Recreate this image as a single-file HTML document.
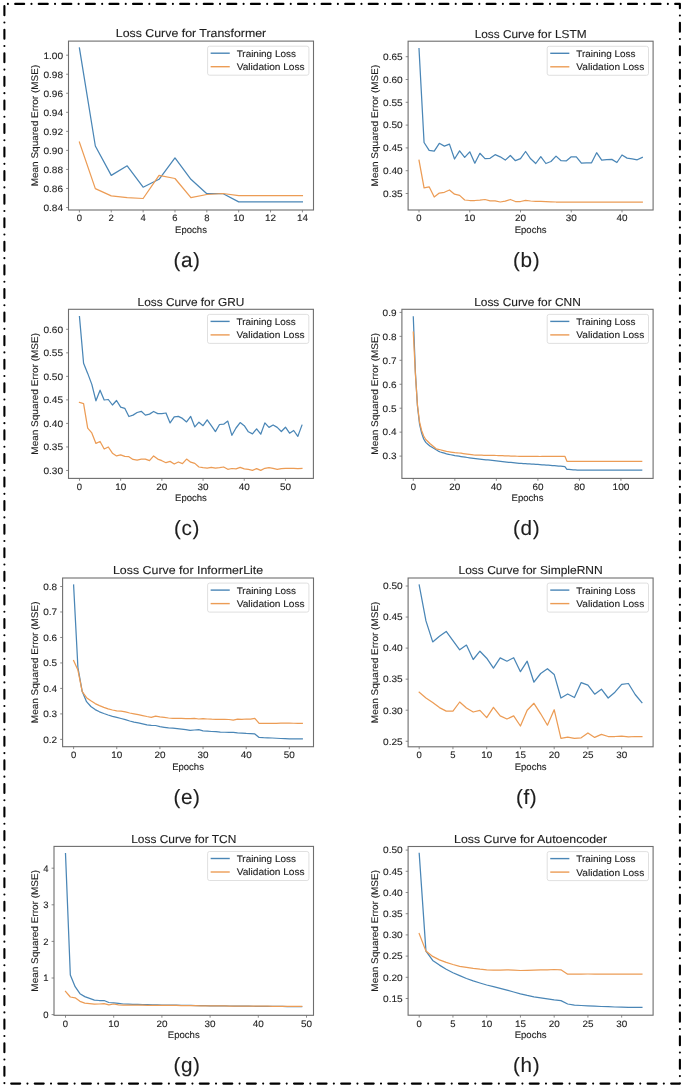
<!DOCTYPE html>
<html><head><meta charset="utf-8"><style>
html,body{margin:0;padding:0;background:#fff;width:685px;height:1086px;overflow:hidden}
svg{display:block;will-change:transform}
text{font-family:"Liberation Sans", sans-serif;stroke:#222;stroke-width:0.12px;text-rendering:geometricPrecision}
</style></head><body><svg width="685" height="1086" viewBox="0 0 685 1086" font-family='"Liberation Sans", sans-serif'><rect width="685" height="1086" fill="#fff"/><polyline points="79.40,47.90 95.33,146.00 111.26,175.40 127.19,165.80 143.12,187.20 159.05,179.30 174.98,157.90 190.91,179.30 206.84,193.70 222.77,193.50 238.70,201.90 254.63,201.90 270.56,201.90 286.49,201.90 302.42,201.90" fill="none" stroke="#4a86b6" stroke-width="1.25" stroke-linejoin="round" stroke-linecap="square"/><polyline points="79.40,142.10 95.33,188.60 111.26,195.90 127.19,197.70 143.12,198.50 159.05,175.40 174.98,178.50 190.91,197.70 206.84,194.50 222.77,193.50 238.70,195.60 254.63,195.60 270.56,195.60 286.49,195.60 302.42,195.60" fill="none" stroke="#ec9c55" stroke-width="1.25" stroke-linejoin="round" stroke-linecap="square"/><rect x="68.50" y="41.10" width="245.00" height="168.90" fill="none" stroke="#6e6e6e" stroke-width="1.1"/><line x1="66.10" y1="55.20" x2="68.50" y2="55.20" stroke="#6e6e6e" stroke-width="0.8"/><text x="63.10" y="58.50" font-size="9.3" text-anchor="end" fill="#1e1e1e" textLength="19.65" lengthAdjust="spacingAndGlyphs">1.00</text><line x1="66.10" y1="74.24" x2="68.50" y2="74.24" stroke="#6e6e6e" stroke-width="0.8"/><text x="63.10" y="77.54" font-size="9.3" text-anchor="end" fill="#1e1e1e" textLength="19.65" lengthAdjust="spacingAndGlyphs">0.98</text><line x1="66.10" y1="93.28" x2="68.50" y2="93.28" stroke="#6e6e6e" stroke-width="0.8"/><text x="63.10" y="96.58" font-size="9.3" text-anchor="end" fill="#1e1e1e" textLength="19.65" lengthAdjust="spacingAndGlyphs">0.96</text><line x1="66.10" y1="112.32" x2="68.50" y2="112.32" stroke="#6e6e6e" stroke-width="0.8"/><text x="63.10" y="115.62" font-size="9.3" text-anchor="end" fill="#1e1e1e" textLength="19.65" lengthAdjust="spacingAndGlyphs">0.94</text><line x1="66.10" y1="131.36" x2="68.50" y2="131.36" stroke="#6e6e6e" stroke-width="0.8"/><text x="63.10" y="134.66" font-size="9.3" text-anchor="end" fill="#1e1e1e" textLength="19.65" lengthAdjust="spacingAndGlyphs">0.92</text><line x1="66.10" y1="150.40" x2="68.50" y2="150.40" stroke="#6e6e6e" stroke-width="0.8"/><text x="63.10" y="153.70" font-size="9.3" text-anchor="end" fill="#1e1e1e" textLength="19.65" lengthAdjust="spacingAndGlyphs">0.90</text><line x1="66.10" y1="169.44" x2="68.50" y2="169.44" stroke="#6e6e6e" stroke-width="0.8"/><text x="63.10" y="172.74" font-size="9.3" text-anchor="end" fill="#1e1e1e" textLength="19.65" lengthAdjust="spacingAndGlyphs">0.88</text><line x1="66.10" y1="188.48" x2="68.50" y2="188.48" stroke="#6e6e6e" stroke-width="0.8"/><text x="63.10" y="191.78" font-size="9.3" text-anchor="end" fill="#1e1e1e" textLength="19.65" lengthAdjust="spacingAndGlyphs">0.86</text><line x1="66.10" y1="207.52" x2="68.50" y2="207.52" stroke="#6e6e6e" stroke-width="0.8"/><text x="63.10" y="210.82" font-size="9.3" text-anchor="end" fill="#1e1e1e" textLength="19.65" lengthAdjust="spacingAndGlyphs">0.84</text><line x1="79.40" y1="210.00" x2="79.40" y2="212.40" stroke="#6e6e6e" stroke-width="0.8"/><text x="79.40" y="221.40" font-size="9.3" text-anchor="middle" fill="#1e1e1e" textLength="5.26" lengthAdjust="spacingAndGlyphs">0</text><line x1="111.26" y1="210.00" x2="111.26" y2="212.40" stroke="#6e6e6e" stroke-width="0.8"/><text x="111.26" y="221.40" font-size="9.3" text-anchor="middle" fill="#1e1e1e" textLength="5.26" lengthAdjust="spacingAndGlyphs">2</text><line x1="143.12" y1="210.00" x2="143.12" y2="212.40" stroke="#6e6e6e" stroke-width="0.8"/><text x="143.12" y="221.40" font-size="9.3" text-anchor="middle" fill="#1e1e1e" textLength="5.26" lengthAdjust="spacingAndGlyphs">4</text><line x1="174.98" y1="210.00" x2="174.98" y2="212.40" stroke="#6e6e6e" stroke-width="0.8"/><text x="174.98" y="221.40" font-size="9.3" text-anchor="middle" fill="#1e1e1e" textLength="5.26" lengthAdjust="spacingAndGlyphs">6</text><line x1="206.84" y1="210.00" x2="206.84" y2="212.40" stroke="#6e6e6e" stroke-width="0.8"/><text x="206.84" y="221.40" font-size="9.3" text-anchor="middle" fill="#1e1e1e" textLength="5.26" lengthAdjust="spacingAndGlyphs">8</text><line x1="238.70" y1="210.00" x2="238.70" y2="212.40" stroke="#6e6e6e" stroke-width="0.8"/><text x="238.70" y="221.40" font-size="9.3" text-anchor="middle" fill="#1e1e1e" textLength="11.01" lengthAdjust="spacingAndGlyphs">10</text><line x1="270.56" y1="210.00" x2="270.56" y2="212.40" stroke="#6e6e6e" stroke-width="0.8"/><text x="270.56" y="221.40" font-size="9.3" text-anchor="middle" fill="#1e1e1e" textLength="11.01" lengthAdjust="spacingAndGlyphs">12</text><line x1="302.42" y1="210.00" x2="302.42" y2="212.40" stroke="#6e6e6e" stroke-width="0.8"/><text x="302.42" y="221.40" font-size="9.3" text-anchor="middle" fill="#1e1e1e" textLength="11.01" lengthAdjust="spacingAndGlyphs">14</text><text x="191.00" y="232.90" font-size="9.6" text-anchor="middle" fill="#1e1e1e" textLength="31.80" lengthAdjust="spacingAndGlyphs">Epochs</text><text x="0" y="0" font-size="9.6" text-anchor="middle" fill="#1e1e1e" textLength="121.6" lengthAdjust="spacingAndGlyphs" transform="translate(38.30,125.55) rotate(-90)">Mean Squared Error (MSE)</text><text x="191.00" y="37.40" font-size="11.5" text-anchor="middle" fill="#1e1e1e" textLength="150.44" lengthAdjust="spacingAndGlyphs">Loss Curve for Transformer</text><rect x="207.60" y="46.20" width="101.3" height="29.0" rx="2" fill="#fff" fill-opacity="0.85" stroke="#d8d8d8" stroke-width="0.8"/><line x1="210.65" y1="53.20" x2="229.75" y2="53.20" stroke="#4a86b6" stroke-width="1.4"/><line x1="210.65" y1="66.70" x2="229.75" y2="66.70" stroke="#ec9c55" stroke-width="1.4"/><text x="236.65" y="56.60" font-size="9.6" text-anchor="start" fill="#1e1e1e" textLength="59.20" lengthAdjust="spacingAndGlyphs">Training Loss</text><text x="236.65" y="70.10" font-size="9.6" text-anchor="start" fill="#1e1e1e" textLength="68.00" lengthAdjust="spacingAndGlyphs">Validation Loss</text><text x="187.00" y="267.20" font-size="20.7" text-anchor="middle" fill="#1e1e1e" letter-spacing="0.6">(a)</text><polyline points="419.00,48.60 424.07,142.50 429.15,150.40 434.23,151.10 439.30,143.30 444.38,146.10 449.45,144.10 454.52,159.00 459.60,150.80 464.68,157.40 469.75,151.80 474.82,163.20 479.90,153.30 484.98,158.60 490.05,158.30 495.12,154.70 500.20,156.80 505.27,160.10 510.35,155.50 515.42,160.70 520.50,158.60 525.58,151.50 530.65,158.80 535.73,163.50 540.80,156.70 545.88,163.50 550.95,161.50 556.02,156.10 561.10,160.70 566.17,160.90 571.25,156.80 576.33,156.80 581.40,163.20 586.48,162.90 591.55,162.80 596.62,152.70 601.70,160.10 606.77,159.60 611.85,159.40 616.92,162.50 622.00,155.00 627.08,158.10 632.15,158.80 637.23,159.80 642.30,157.40" fill="none" stroke="#4a86b6" stroke-width="1.25" stroke-linejoin="round" stroke-linecap="square"/><polyline points="419.00,160.20 424.07,187.90 429.15,186.80 434.23,197.00 439.30,193.10 444.38,192.30 449.45,190.00 454.52,194.20 459.60,195.40 464.68,200.00 469.75,200.50 474.82,200.50 479.90,200.10 484.98,199.50 490.05,200.80 495.12,200.80 500.20,202.00 505.27,201.20 510.35,199.50 515.42,201.50 520.50,201.50 525.58,200.30 530.65,201.00 535.73,201.30 540.80,201.40 545.88,201.60 550.95,201.80 556.02,202.00 561.10,202.00 566.17,202.00 571.25,202.00 576.33,202.00 581.40,202.00 586.48,202.00 591.55,202.00 596.62,202.00 601.70,202.00 606.77,202.00 611.85,202.00 616.92,202.00 622.00,202.00 627.08,202.00 632.15,202.00 637.23,202.00 642.30,202.00" fill="none" stroke="#ec9c55" stroke-width="1.25" stroke-linejoin="round" stroke-linecap="square"/><rect x="408.10" y="41.20" width="245.00" height="168.80" fill="none" stroke="#6e6e6e" stroke-width="1.1"/><line x1="405.70" y1="56.70" x2="408.10" y2="56.70" stroke="#6e6e6e" stroke-width="0.8"/><text x="402.70" y="60.00" font-size="9.3" text-anchor="end" fill="#1e1e1e" textLength="19.65" lengthAdjust="spacingAndGlyphs">0.65</text><line x1="405.70" y1="79.50" x2="408.10" y2="79.50" stroke="#6e6e6e" stroke-width="0.8"/><text x="402.70" y="82.80" font-size="9.3" text-anchor="end" fill="#1e1e1e" textLength="19.65" lengthAdjust="spacingAndGlyphs">0.60</text><line x1="405.70" y1="102.30" x2="408.10" y2="102.30" stroke="#6e6e6e" stroke-width="0.8"/><text x="402.70" y="105.60" font-size="9.3" text-anchor="end" fill="#1e1e1e" textLength="19.65" lengthAdjust="spacingAndGlyphs">0.55</text><line x1="405.70" y1="125.10" x2="408.10" y2="125.10" stroke="#6e6e6e" stroke-width="0.8"/><text x="402.70" y="128.40" font-size="9.3" text-anchor="end" fill="#1e1e1e" textLength="19.65" lengthAdjust="spacingAndGlyphs">0.50</text><line x1="405.70" y1="147.90" x2="408.10" y2="147.90" stroke="#6e6e6e" stroke-width="0.8"/><text x="402.70" y="151.20" font-size="9.3" text-anchor="end" fill="#1e1e1e" textLength="19.65" lengthAdjust="spacingAndGlyphs">0.45</text><line x1="405.70" y1="170.70" x2="408.10" y2="170.70" stroke="#6e6e6e" stroke-width="0.8"/><text x="402.70" y="174.00" font-size="9.3" text-anchor="end" fill="#1e1e1e" textLength="19.65" lengthAdjust="spacingAndGlyphs">0.40</text><line x1="405.70" y1="193.50" x2="408.10" y2="193.50" stroke="#6e6e6e" stroke-width="0.8"/><text x="402.70" y="196.80" font-size="9.3" text-anchor="end" fill="#1e1e1e" textLength="19.65" lengthAdjust="spacingAndGlyphs">0.35</text><line x1="419.00" y1="210.00" x2="419.00" y2="212.40" stroke="#6e6e6e" stroke-width="0.8"/><text x="419.00" y="221.40" font-size="9.3" text-anchor="middle" fill="#1e1e1e" textLength="5.26" lengthAdjust="spacingAndGlyphs">0</text><line x1="469.75" y1="210.00" x2="469.75" y2="212.40" stroke="#6e6e6e" stroke-width="0.8"/><text x="469.75" y="221.40" font-size="9.3" text-anchor="middle" fill="#1e1e1e" textLength="11.01" lengthAdjust="spacingAndGlyphs">10</text><line x1="520.50" y1="210.00" x2="520.50" y2="212.40" stroke="#6e6e6e" stroke-width="0.8"/><text x="520.50" y="221.40" font-size="9.3" text-anchor="middle" fill="#1e1e1e" textLength="11.01" lengthAdjust="spacingAndGlyphs">20</text><line x1="571.25" y1="210.00" x2="571.25" y2="212.40" stroke="#6e6e6e" stroke-width="0.8"/><text x="571.25" y="221.40" font-size="9.3" text-anchor="middle" fill="#1e1e1e" textLength="11.01" lengthAdjust="spacingAndGlyphs">30</text><line x1="622.00" y1="210.00" x2="622.00" y2="212.40" stroke="#6e6e6e" stroke-width="0.8"/><text x="622.00" y="221.40" font-size="9.3" text-anchor="middle" fill="#1e1e1e" textLength="11.01" lengthAdjust="spacingAndGlyphs">40</text><text x="530.60" y="232.90" font-size="9.6" text-anchor="middle" fill="#1e1e1e" textLength="31.80" lengthAdjust="spacingAndGlyphs">Epochs</text><text x="0" y="0" font-size="9.6" text-anchor="middle" fill="#1e1e1e" textLength="121.6" lengthAdjust="spacingAndGlyphs" transform="translate(378.40,125.60) rotate(-90)">Mean Squared Error (MSE)</text><text x="530.60" y="37.50" font-size="11.5" text-anchor="middle" fill="#1e1e1e" textLength="111.89" lengthAdjust="spacingAndGlyphs">Loss Curve for LSTM</text><rect x="547.20" y="46.30" width="101.3" height="29.0" rx="2" fill="#fff" fill-opacity="0.85" stroke="#d8d8d8" stroke-width="0.8"/><line x1="550.25" y1="53.30" x2="569.35" y2="53.30" stroke="#4a86b6" stroke-width="1.4"/><line x1="550.25" y1="66.80" x2="569.35" y2="66.80" stroke="#ec9c55" stroke-width="1.4"/><text x="576.25" y="56.70" font-size="9.6" text-anchor="start" fill="#1e1e1e" textLength="59.20" lengthAdjust="spacingAndGlyphs">Training Loss</text><text x="576.25" y="70.20" font-size="9.6" text-anchor="start" fill="#1e1e1e" textLength="68.00" lengthAdjust="spacingAndGlyphs">Validation Loss</text><text x="526.60" y="267.20" font-size="20.7" text-anchor="middle" fill="#1e1e1e" letter-spacing="0.6">(b)</text><polyline points="79.46,316.60 83.58,363.20 87.70,373.40 91.82,384.40 95.94,400.80 100.06,390.20 104.18,400.00 108.30,399.50 112.42,405.00 116.54,400.50 120.66,407.10 124.78,408.30 128.90,416.50 133.02,415.10 137.14,412.50 141.26,411.30 145.38,415.10 149.50,414.10 153.62,411.50 157.74,413.60 161.86,413.60 165.98,413.00 170.10,422.90 174.22,416.80 178.34,416.40 182.46,418.40 186.58,421.90 190.70,416.40 194.82,426.90 198.94,422.20 203.06,425.70 207.18,419.80 211.30,425.70 215.42,431.60 219.54,424.50 223.66,424.20 227.78,421.10 231.90,435.30 236.02,428.00 240.14,422.60 244.26,425.70 248.38,431.80 252.50,433.90 256.62,428.80 260.74,434.20 264.86,422.90 268.98,427.40 273.10,425.00 277.22,427.40 281.34,431.50 285.46,427.20 289.58,433.20 293.70,430.50 297.82,436.40 301.94,425.20" fill="none" stroke="#4a86b6" stroke-width="1.25" stroke-linejoin="round" stroke-linecap="square"/><polyline points="79.46,402.40 83.58,403.60 87.70,428.20 91.82,432.90 95.94,443.40 100.06,441.50 104.18,449.00 108.30,447.00 112.42,453.20 116.54,455.90 120.66,454.80 124.78,456.40 128.90,456.70 133.02,459.40 137.14,460.10 141.26,459.10 145.38,459.10 149.50,460.70 153.62,455.90 157.74,459.10 161.86,460.70 165.98,462.70 170.10,461.40 174.22,464.00 178.34,462.00 182.46,463.70 186.58,459.10 190.70,462.20 194.82,463.40 198.94,467.00 203.06,467.70 207.18,468.20 211.30,467.40 215.42,468.20 219.54,467.70 223.66,467.00 227.78,469.30 231.90,468.50 236.02,468.90 240.14,467.30 244.26,468.90 248.38,469.30 252.50,470.30 256.62,468.60 260.74,470.40 264.86,468.30 268.98,467.60 273.10,468.30 277.22,469.30 281.34,468.60 285.46,468.30 289.58,468.30 293.70,468.30 297.82,468.60 301.94,468.30" fill="none" stroke="#ec9c55" stroke-width="1.25" stroke-linejoin="round" stroke-linecap="square"/><rect x="68.50" y="309.30" width="244.90" height="169.10" fill="none" stroke="#6e6e6e" stroke-width="1.1"/><line x1="66.10" y1="329.30" x2="68.50" y2="329.30" stroke="#6e6e6e" stroke-width="0.8"/><text x="63.10" y="332.60" font-size="9.3" text-anchor="end" fill="#1e1e1e" textLength="19.65" lengthAdjust="spacingAndGlyphs">0.60</text><line x1="66.10" y1="352.83" x2="68.50" y2="352.83" stroke="#6e6e6e" stroke-width="0.8"/><text x="63.10" y="356.13" font-size="9.3" text-anchor="end" fill="#1e1e1e" textLength="19.65" lengthAdjust="spacingAndGlyphs">0.55</text><line x1="66.10" y1="376.36" x2="68.50" y2="376.36" stroke="#6e6e6e" stroke-width="0.8"/><text x="63.10" y="379.66" font-size="9.3" text-anchor="end" fill="#1e1e1e" textLength="19.65" lengthAdjust="spacingAndGlyphs">0.50</text><line x1="66.10" y1="399.89" x2="68.50" y2="399.89" stroke="#6e6e6e" stroke-width="0.8"/><text x="63.10" y="403.19" font-size="9.3" text-anchor="end" fill="#1e1e1e" textLength="19.65" lengthAdjust="spacingAndGlyphs">0.45</text><line x1="66.10" y1="423.42" x2="68.50" y2="423.42" stroke="#6e6e6e" stroke-width="0.8"/><text x="63.10" y="426.72" font-size="9.3" text-anchor="end" fill="#1e1e1e" textLength="19.65" lengthAdjust="spacingAndGlyphs">0.40</text><line x1="66.10" y1="446.95" x2="68.50" y2="446.95" stroke="#6e6e6e" stroke-width="0.8"/><text x="63.10" y="450.25" font-size="9.3" text-anchor="end" fill="#1e1e1e" textLength="19.65" lengthAdjust="spacingAndGlyphs">0.35</text><line x1="66.10" y1="470.48" x2="68.50" y2="470.48" stroke="#6e6e6e" stroke-width="0.8"/><text x="63.10" y="473.78" font-size="9.3" text-anchor="end" fill="#1e1e1e" textLength="19.65" lengthAdjust="spacingAndGlyphs">0.30</text><line x1="79.46" y1="478.40" x2="79.46" y2="480.80" stroke="#6e6e6e" stroke-width="0.8"/><text x="79.46" y="489.80" font-size="9.3" text-anchor="middle" fill="#1e1e1e" textLength="5.26" lengthAdjust="spacingAndGlyphs">0</text><line x1="120.66" y1="478.40" x2="120.66" y2="480.80" stroke="#6e6e6e" stroke-width="0.8"/><text x="120.66" y="489.80" font-size="9.3" text-anchor="middle" fill="#1e1e1e" textLength="11.01" lengthAdjust="spacingAndGlyphs">10</text><line x1="161.86" y1="478.40" x2="161.86" y2="480.80" stroke="#6e6e6e" stroke-width="0.8"/><text x="161.86" y="489.80" font-size="9.3" text-anchor="middle" fill="#1e1e1e" textLength="11.01" lengthAdjust="spacingAndGlyphs">20</text><line x1="203.06" y1="478.40" x2="203.06" y2="480.80" stroke="#6e6e6e" stroke-width="0.8"/><text x="203.06" y="489.80" font-size="9.3" text-anchor="middle" fill="#1e1e1e" textLength="11.01" lengthAdjust="spacingAndGlyphs">30</text><line x1="244.26" y1="478.40" x2="244.26" y2="480.80" stroke="#6e6e6e" stroke-width="0.8"/><text x="244.26" y="489.80" font-size="9.3" text-anchor="middle" fill="#1e1e1e" textLength="11.01" lengthAdjust="spacingAndGlyphs">40</text><line x1="285.46" y1="478.40" x2="285.46" y2="480.80" stroke="#6e6e6e" stroke-width="0.8"/><text x="285.46" y="489.80" font-size="9.3" text-anchor="middle" fill="#1e1e1e" textLength="11.01" lengthAdjust="spacingAndGlyphs">50</text><text x="190.95" y="501.30" font-size="9.6" text-anchor="middle" fill="#1e1e1e" textLength="31.80" lengthAdjust="spacingAndGlyphs">Epochs</text><text x="0" y="0" font-size="9.6" text-anchor="middle" fill="#1e1e1e" textLength="121.6" lengthAdjust="spacingAndGlyphs" transform="translate(38.40,393.85) rotate(-90)">Mean Squared Error (MSE)</text><text x="190.95" y="305.60" font-size="11.5" text-anchor="middle" fill="#1e1e1e" textLength="106.78" lengthAdjust="spacingAndGlyphs">Loss Curve for GRU</text><rect x="207.50" y="314.40" width="101.3" height="29.0" rx="2" fill="#fff" fill-opacity="0.85" stroke="#d8d8d8" stroke-width="0.8"/><line x1="210.55" y1="321.40" x2="229.65" y2="321.40" stroke="#4a86b6" stroke-width="1.4"/><line x1="210.55" y1="334.90" x2="229.65" y2="334.90" stroke="#ec9c55" stroke-width="1.4"/><text x="236.55" y="324.80" font-size="9.6" text-anchor="start" fill="#1e1e1e" textLength="59.20" lengthAdjust="spacingAndGlyphs">Training Loss</text><text x="236.55" y="338.30" font-size="9.6" text-anchor="start" fill="#1e1e1e" textLength="68.00" lengthAdjust="spacingAndGlyphs">Validation Loss</text><text x="187.00" y="535.40" font-size="20.7" text-anchor="middle" fill="#1e1e1e" letter-spacing="0.6">(c)</text><polyline points="413.30,316.90 415.38,372.00 417.45,406.00 419.53,424.00 421.61,433.00 423.68,439.00 425.76,442.40 427.83,444.20 429.91,446.00 431.99,447.27 434.06,448.53 436.14,449.80 438.22,451.07 440.29,452.00 442.37,452.61 444.45,453.21 446.52,453.82 448.60,454.30 450.68,454.74 452.75,455.17 454.83,455.60 456.90,455.92 458.98,456.23 461.06,456.55 463.13,456.87 465.21,457.18 467.29,457.50 469.36,457.79 471.44,458.07 473.52,458.36 475.59,458.61 477.67,458.84 479.74,459.07 481.82,459.30 483.90,459.53 485.97,459.76 488.05,459.99 490.13,460.21 492.20,460.44 494.28,460.67 496.36,460.90 498.43,461.13 500.51,461.35 502.59,461.58 504.66,461.81 506.74,462.03 508.81,462.26 510.89,462.48 512.97,462.71 515.04,462.94 517.12,463.16 519.20,463.35 521.27,463.48 523.35,463.60 525.43,463.73 527.50,463.85 529.58,463.98 531.65,464.10 533.73,464.23 535.81,464.35 537.88,464.48 539.96,464.60 542.04,464.76 544.11,464.91 546.19,465.07 548.27,465.23 550.34,465.38 552.42,465.54 554.50,465.69 556.57,465.85 558.65,466.01 560.72,466.18 562.80,466.39 564.88,466.60 566.95,469.30 569.03,469.46 571.11,469.62 573.18,469.78 575.26,469.94 577.34,470.10 579.41,470.10 581.49,470.10 583.56,470.10 585.64,470.10 587.72,470.10 589.79,470.10 591.87,470.10 593.95,470.10 596.02,470.10 598.10,470.10 600.18,470.10 602.25,470.10 604.33,470.10 606.41,470.10 608.48,470.10 610.56,470.10 612.63,470.10 614.71,470.10 616.79,470.10 618.86,470.10 620.94,470.10 623.02,470.10 625.09,470.10 627.17,470.10 629.25,470.10 631.32,470.10 633.40,470.10 635.47,470.10 637.55,470.10 639.63,470.10 641.70,470.10" fill="none" stroke="#4a86b6" stroke-width="1.25" stroke-linejoin="round" stroke-linecap="square"/><polyline points="413.30,332.10 415.38,374.00 417.45,405.00 419.53,422.00 421.61,430.50 423.68,436.00 425.76,439.50 427.83,441.50 429.91,443.50 431.99,445.27 434.06,447.03 436.14,448.80 438.22,449.27 440.29,449.76 442.37,450.29 444.45,450.82 446.52,451.34 448.60,451.71 450.68,452.01 452.75,452.30 454.83,452.60 456.90,452.80 458.98,453.00 461.06,453.24 463.13,453.53 465.21,453.81 467.29,454.10 469.36,454.39 471.44,454.67 473.52,454.96 475.59,455.12 477.67,455.16 479.74,455.20 481.82,455.23 483.90,455.27 485.97,455.31 488.05,455.35 490.13,455.39 492.20,455.42 494.28,455.46 496.36,455.50 498.43,455.58 500.51,455.65 502.59,455.73 504.66,455.80 506.74,455.88 508.81,455.95 510.89,456.03 512.97,456.10 515.04,456.18 517.12,456.25 519.20,456.31 521.27,456.33 523.35,456.35 525.43,456.37 527.50,456.38 529.58,456.40 531.65,456.42 533.73,456.44 535.81,456.46 537.88,456.48 539.96,456.50 542.04,456.48 544.11,456.47 546.19,456.45 548.27,456.43 550.34,456.42 552.42,456.40 554.50,456.38 556.57,456.37 558.65,456.35 560.72,456.33 562.80,456.32 564.88,456.30 566.95,461.30 569.03,461.30 571.11,461.30 573.18,461.30 575.26,461.30 577.34,461.30 579.41,461.30 581.49,461.30 583.56,461.30 585.64,461.30 587.72,461.30 589.79,461.30 591.87,461.30 593.95,461.30 596.02,461.30 598.10,461.30 600.18,461.30 602.25,461.30 604.33,461.30 606.41,461.30 608.48,461.30 610.56,461.30 612.63,461.30 614.71,461.30 616.79,461.30 618.86,461.30 620.94,461.30 623.02,461.30 625.09,461.30 627.17,461.30 629.25,461.30 631.32,461.30 633.40,461.30 635.47,461.30 637.55,461.30 639.63,461.30 641.70,461.30" fill="none" stroke="#ec9c55" stroke-width="1.25" stroke-linejoin="round" stroke-linecap="square"/><rect x="401.90" y="309.30" width="251.20" height="169.10" fill="none" stroke="#6e6e6e" stroke-width="1.1"/><line x1="399.50" y1="312.40" x2="401.90" y2="312.40" stroke="#6e6e6e" stroke-width="0.8"/><text x="396.50" y="315.70" font-size="9.3" text-anchor="end" fill="#1e1e1e" textLength="13.89" lengthAdjust="spacingAndGlyphs">0.9</text><line x1="399.50" y1="336.35" x2="401.90" y2="336.35" stroke="#6e6e6e" stroke-width="0.8"/><text x="396.50" y="339.65" font-size="9.3" text-anchor="end" fill="#1e1e1e" textLength="13.89" lengthAdjust="spacingAndGlyphs">0.8</text><line x1="399.50" y1="360.30" x2="401.90" y2="360.30" stroke="#6e6e6e" stroke-width="0.8"/><text x="396.50" y="363.60" font-size="9.3" text-anchor="end" fill="#1e1e1e" textLength="13.89" lengthAdjust="spacingAndGlyphs">0.7</text><line x1="399.50" y1="384.25" x2="401.90" y2="384.25" stroke="#6e6e6e" stroke-width="0.8"/><text x="396.50" y="387.55" font-size="9.3" text-anchor="end" fill="#1e1e1e" textLength="13.89" lengthAdjust="spacingAndGlyphs">0.6</text><line x1="399.50" y1="408.20" x2="401.90" y2="408.20" stroke="#6e6e6e" stroke-width="0.8"/><text x="396.50" y="411.50" font-size="9.3" text-anchor="end" fill="#1e1e1e" textLength="13.89" lengthAdjust="spacingAndGlyphs">0.5</text><line x1="399.50" y1="432.15" x2="401.90" y2="432.15" stroke="#6e6e6e" stroke-width="0.8"/><text x="396.50" y="435.45" font-size="9.3" text-anchor="end" fill="#1e1e1e" textLength="13.89" lengthAdjust="spacingAndGlyphs">0.4</text><line x1="399.50" y1="456.10" x2="401.90" y2="456.10" stroke="#6e6e6e" stroke-width="0.8"/><text x="396.50" y="459.40" font-size="9.3" text-anchor="end" fill="#1e1e1e" textLength="13.89" lengthAdjust="spacingAndGlyphs">0.3</text><line x1="413.30" y1="478.40" x2="413.30" y2="480.80" stroke="#6e6e6e" stroke-width="0.8"/><text x="413.30" y="489.80" font-size="9.3" text-anchor="middle" fill="#1e1e1e" textLength="5.26" lengthAdjust="spacingAndGlyphs">0</text><line x1="454.83" y1="478.40" x2="454.83" y2="480.80" stroke="#6e6e6e" stroke-width="0.8"/><text x="454.83" y="489.80" font-size="9.3" text-anchor="middle" fill="#1e1e1e" textLength="11.01" lengthAdjust="spacingAndGlyphs">20</text><line x1="496.36" y1="478.40" x2="496.36" y2="480.80" stroke="#6e6e6e" stroke-width="0.8"/><text x="496.36" y="489.80" font-size="9.3" text-anchor="middle" fill="#1e1e1e" textLength="11.01" lengthAdjust="spacingAndGlyphs">40</text><line x1="537.88" y1="478.40" x2="537.88" y2="480.80" stroke="#6e6e6e" stroke-width="0.8"/><text x="537.88" y="489.80" font-size="9.3" text-anchor="middle" fill="#1e1e1e" textLength="11.01" lengthAdjust="spacingAndGlyphs">60</text><line x1="579.41" y1="478.40" x2="579.41" y2="480.80" stroke="#6e6e6e" stroke-width="0.8"/><text x="579.41" y="489.80" font-size="9.3" text-anchor="middle" fill="#1e1e1e" textLength="11.01" lengthAdjust="spacingAndGlyphs">80</text><line x1="620.94" y1="478.40" x2="620.94" y2="480.80" stroke="#6e6e6e" stroke-width="0.8"/><text x="620.94" y="489.80" font-size="9.3" text-anchor="middle" fill="#1e1e1e" textLength="16.77" lengthAdjust="spacingAndGlyphs">100</text><text x="527.50" y="501.30" font-size="9.6" text-anchor="middle" fill="#1e1e1e" textLength="31.80" lengthAdjust="spacingAndGlyphs">Epochs</text><text x="0" y="0" font-size="9.6" text-anchor="middle" fill="#1e1e1e" textLength="121.6" lengthAdjust="spacingAndGlyphs" transform="translate(378.30,393.85) rotate(-90)">Mean Squared Error (MSE)</text><text x="527.50" y="305.60" font-size="11.5" text-anchor="middle" fill="#1e1e1e" textLength="106.69" lengthAdjust="spacingAndGlyphs">Loss Curve for CNN</text><rect x="547.20" y="314.40" width="101.3" height="29.0" rx="2" fill="#fff" fill-opacity="0.85" stroke="#d8d8d8" stroke-width="0.8"/><line x1="550.25" y1="321.40" x2="569.35" y2="321.40" stroke="#4a86b6" stroke-width="1.4"/><line x1="550.25" y1="334.90" x2="569.35" y2="334.90" stroke="#ec9c55" stroke-width="1.4"/><text x="576.25" y="324.80" font-size="9.6" text-anchor="start" fill="#1e1e1e" textLength="59.20" lengthAdjust="spacingAndGlyphs">Training Loss</text><text x="576.25" y="338.30" font-size="9.6" text-anchor="start" fill="#1e1e1e" textLength="68.00" lengthAdjust="spacingAndGlyphs">Validation Loss</text><text x="526.60" y="535.40" font-size="20.7" text-anchor="middle" fill="#1e1e1e" letter-spacing="0.6">(d)</text><polyline points="73.60,585.00 77.91,667.50 82.23,691.60 86.54,701.70 90.86,706.50 95.17,709.60 99.49,711.80 103.80,713.50 108.12,715.00 112.44,716.30 116.75,717.40 121.06,718.50 125.38,719.70 129.69,721.00 134.01,722.10 138.32,722.90 142.64,723.80 146.95,724.80 151.27,725.40 155.59,725.50 159.90,726.70 164.22,727.30 168.53,727.90 172.84,728.20 177.16,728.60 181.48,729.10 185.79,729.70 190.11,730.40 194.42,730.00 198.74,729.70 203.05,730.80 207.37,731.10 211.68,731.50 216.00,731.70 220.31,732.20 224.62,732.25 228.94,732.30 233.25,732.40 237.57,732.80 241.89,733.10 246.20,733.40 250.52,733.60 254.83,733.90 259.14,737.40 263.46,737.70 267.77,737.85 272.09,738.00 276.40,738.25 280.72,738.50 285.04,738.65 289.35,738.80 293.67,738.80 297.98,738.80 302.30,738.80" fill="none" stroke="#4a86b6" stroke-width="1.25" stroke-linejoin="round" stroke-linecap="square"/><polyline points="73.60,660.50 77.91,670.10 82.23,691.60 86.54,697.70 90.86,700.80 95.17,703.60 99.49,705.60 103.80,707.40 108.12,708.90 112.44,710.00 116.75,710.80 121.06,711.20 125.38,711.80 129.69,713.00 134.01,713.80 138.32,714.70 142.64,715.60 146.95,716.50 151.27,717.30 155.59,716.20 159.90,716.80 164.22,717.30 168.53,718.00 172.84,718.40 177.16,718.40 181.48,718.47 185.79,718.53 190.11,718.60 194.42,718.30 198.74,719.00 203.05,718.60 207.37,719.00 211.68,719.20 216.00,719.30 220.31,719.37 224.62,719.43 228.94,719.50 233.25,720.10 237.57,719.10 241.89,719.30 246.20,719.00 250.52,719.10 254.83,718.40 259.14,723.40 263.46,723.38 267.77,723.35 272.09,723.32 276.40,723.30 280.72,723.20 285.04,723.10 289.35,723.17 293.67,723.25 297.98,723.33 302.30,723.40" fill="none" stroke="#ec9c55" stroke-width="1.25" stroke-linejoin="round" stroke-linecap="square"/><rect x="62.60" y="578.00" width="250.90" height="168.70" fill="none" stroke="#6e6e6e" stroke-width="1.1"/><line x1="60.20" y1="586.50" x2="62.60" y2="586.50" stroke="#6e6e6e" stroke-width="0.8"/><text x="57.20" y="589.80" font-size="9.3" text-anchor="end" fill="#1e1e1e" textLength="13.89" lengthAdjust="spacingAndGlyphs">0.8</text><line x1="60.20" y1="611.98" x2="62.60" y2="611.98" stroke="#6e6e6e" stroke-width="0.8"/><text x="57.20" y="615.28" font-size="9.3" text-anchor="end" fill="#1e1e1e" textLength="13.89" lengthAdjust="spacingAndGlyphs">0.7</text><line x1="60.20" y1="637.46" x2="62.60" y2="637.46" stroke="#6e6e6e" stroke-width="0.8"/><text x="57.20" y="640.76" font-size="9.3" text-anchor="end" fill="#1e1e1e" textLength="13.89" lengthAdjust="spacingAndGlyphs">0.6</text><line x1="60.20" y1="662.94" x2="62.60" y2="662.94" stroke="#6e6e6e" stroke-width="0.8"/><text x="57.20" y="666.24" font-size="9.3" text-anchor="end" fill="#1e1e1e" textLength="13.89" lengthAdjust="spacingAndGlyphs">0.5</text><line x1="60.20" y1="688.42" x2="62.60" y2="688.42" stroke="#6e6e6e" stroke-width="0.8"/><text x="57.20" y="691.72" font-size="9.3" text-anchor="end" fill="#1e1e1e" textLength="13.89" lengthAdjust="spacingAndGlyphs">0.4</text><line x1="60.20" y1="713.90" x2="62.60" y2="713.90" stroke="#6e6e6e" stroke-width="0.8"/><text x="57.20" y="717.20" font-size="9.3" text-anchor="end" fill="#1e1e1e" textLength="13.89" lengthAdjust="spacingAndGlyphs">0.3</text><line x1="60.20" y1="739.38" x2="62.60" y2="739.38" stroke="#6e6e6e" stroke-width="0.8"/><text x="57.20" y="742.68" font-size="9.3" text-anchor="end" fill="#1e1e1e" textLength="13.89" lengthAdjust="spacingAndGlyphs">0.2</text><line x1="73.60" y1="746.70" x2="73.60" y2="749.10" stroke="#6e6e6e" stroke-width="0.8"/><text x="73.60" y="758.10" font-size="9.3" text-anchor="middle" fill="#1e1e1e" textLength="5.26" lengthAdjust="spacingAndGlyphs">0</text><line x1="116.75" y1="746.70" x2="116.75" y2="749.10" stroke="#6e6e6e" stroke-width="0.8"/><text x="116.75" y="758.10" font-size="9.3" text-anchor="middle" fill="#1e1e1e" textLength="11.01" lengthAdjust="spacingAndGlyphs">10</text><line x1="159.90" y1="746.70" x2="159.90" y2="749.10" stroke="#6e6e6e" stroke-width="0.8"/><text x="159.90" y="758.10" font-size="9.3" text-anchor="middle" fill="#1e1e1e" textLength="11.01" lengthAdjust="spacingAndGlyphs">20</text><line x1="203.05" y1="746.70" x2="203.05" y2="749.10" stroke="#6e6e6e" stroke-width="0.8"/><text x="203.05" y="758.10" font-size="9.3" text-anchor="middle" fill="#1e1e1e" textLength="11.01" lengthAdjust="spacingAndGlyphs">30</text><line x1="246.20" y1="746.70" x2="246.20" y2="749.10" stroke="#6e6e6e" stroke-width="0.8"/><text x="246.20" y="758.10" font-size="9.3" text-anchor="middle" fill="#1e1e1e" textLength="11.01" lengthAdjust="spacingAndGlyphs">40</text><line x1="289.35" y1="746.70" x2="289.35" y2="749.10" stroke="#6e6e6e" stroke-width="0.8"/><text x="289.35" y="758.10" font-size="9.3" text-anchor="middle" fill="#1e1e1e" textLength="11.01" lengthAdjust="spacingAndGlyphs">50</text><text x="188.05" y="769.60" font-size="9.6" text-anchor="middle" fill="#1e1e1e" textLength="31.80" lengthAdjust="spacingAndGlyphs">Epochs</text><text x="0" y="0" font-size="9.6" text-anchor="middle" fill="#1e1e1e" textLength="121.6" lengthAdjust="spacingAndGlyphs" transform="translate(37.80,662.35) rotate(-90)">Mean Squared Error (MSE)</text><text x="188.05" y="574.30" font-size="11.5" text-anchor="middle" fill="#1e1e1e" textLength="150.23" lengthAdjust="spacingAndGlyphs">Loss Curve for InformerLite</text><rect x="207.60" y="583.10" width="101.3" height="29.0" rx="2" fill="#fff" fill-opacity="0.85" stroke="#d8d8d8" stroke-width="0.8"/><line x1="210.65" y1="590.10" x2="229.75" y2="590.10" stroke="#4a86b6" stroke-width="1.4"/><line x1="210.65" y1="603.60" x2="229.75" y2="603.60" stroke="#ec9c55" stroke-width="1.4"/><text x="236.65" y="593.50" font-size="9.6" text-anchor="start" fill="#1e1e1e" textLength="59.20" lengthAdjust="spacingAndGlyphs">Training Loss</text><text x="236.65" y="607.00" font-size="9.6" text-anchor="start" fill="#1e1e1e" textLength="68.00" lengthAdjust="spacingAndGlyphs">Validation Loss</text><text x="187.00" y="803.70" font-size="20.7" text-anchor="middle" fill="#1e1e1e" letter-spacing="0.6">(e)</text><polyline points="419.20,585.00 425.95,620.90 432.70,641.90 439.45,636.30 446.20,631.40 452.94,640.70 459.69,649.80 466.44,645.10 473.19,659.50 479.94,651.20 486.69,658.20 493.44,668.20 500.19,657.90 506.94,661.20 513.69,657.70 520.43,671.70 527.18,661.20 533.93,682.20 540.68,673.50 547.43,668.70 554.18,674.40 560.93,698.00 567.68,694.00 574.43,697.50 581.18,682.60 587.92,685.20 594.67,694.20 601.42,689.20 608.17,698.00 614.92,692.20 621.67,684.30 628.42,683.50 635.17,694.50 641.92,702.70" fill="none" stroke="#4a86b6" stroke-width="1.25" stroke-linejoin="round" stroke-linecap="square"/><polyline points="419.20,692.20 425.95,698.00 432.70,702.40 439.45,707.60 446.20,711.10 452.94,711.10 459.69,702.00 466.44,708.00 473.19,712.00 479.94,710.30 486.69,717.60 493.44,707.30 500.19,715.90 506.94,719.00 513.69,715.90 520.43,726.00 527.18,710.30 533.93,703.30 540.68,713.80 547.43,725.20 554.18,709.70 560.93,738.30 567.68,737.10 574.43,738.30 581.18,737.80 587.92,733.00 594.67,737.40 601.42,734.40 608.17,736.50 614.92,736.50 621.67,736.20 628.42,736.90 635.17,736.50 641.92,736.50" fill="none" stroke="#ec9c55" stroke-width="1.25" stroke-linejoin="round" stroke-linecap="square"/><rect x="408.10" y="578.00" width="245.00" height="168.80" fill="none" stroke="#6e6e6e" stroke-width="1.1"/><line x1="405.70" y1="586.00" x2="408.10" y2="586.00" stroke="#6e6e6e" stroke-width="0.8"/><text x="402.70" y="589.30" font-size="9.3" text-anchor="end" fill="#1e1e1e" textLength="19.65" lengthAdjust="spacingAndGlyphs">0.50</text><line x1="405.70" y1="617.05" x2="408.10" y2="617.05" stroke="#6e6e6e" stroke-width="0.8"/><text x="402.70" y="620.35" font-size="9.3" text-anchor="end" fill="#1e1e1e" textLength="19.65" lengthAdjust="spacingAndGlyphs">0.45</text><line x1="405.70" y1="648.10" x2="408.10" y2="648.10" stroke="#6e6e6e" stroke-width="0.8"/><text x="402.70" y="651.40" font-size="9.3" text-anchor="end" fill="#1e1e1e" textLength="19.65" lengthAdjust="spacingAndGlyphs">0.40</text><line x1="405.70" y1="679.15" x2="408.10" y2="679.15" stroke="#6e6e6e" stroke-width="0.8"/><text x="402.70" y="682.45" font-size="9.3" text-anchor="end" fill="#1e1e1e" textLength="19.65" lengthAdjust="spacingAndGlyphs">0.35</text><line x1="405.70" y1="710.20" x2="408.10" y2="710.20" stroke="#6e6e6e" stroke-width="0.8"/><text x="402.70" y="713.50" font-size="9.3" text-anchor="end" fill="#1e1e1e" textLength="19.65" lengthAdjust="spacingAndGlyphs">0.30</text><line x1="405.70" y1="741.25" x2="408.10" y2="741.25" stroke="#6e6e6e" stroke-width="0.8"/><text x="402.70" y="744.55" font-size="9.3" text-anchor="end" fill="#1e1e1e" textLength="19.65" lengthAdjust="spacingAndGlyphs">0.25</text><line x1="419.20" y1="746.80" x2="419.20" y2="749.20" stroke="#6e6e6e" stroke-width="0.8"/><text x="419.20" y="758.20" font-size="9.3" text-anchor="middle" fill="#1e1e1e" textLength="5.26" lengthAdjust="spacingAndGlyphs">0</text><line x1="452.94" y1="746.80" x2="452.94" y2="749.20" stroke="#6e6e6e" stroke-width="0.8"/><text x="452.94" y="758.20" font-size="9.3" text-anchor="middle" fill="#1e1e1e" textLength="5.26" lengthAdjust="spacingAndGlyphs">5</text><line x1="486.69" y1="746.80" x2="486.69" y2="749.20" stroke="#6e6e6e" stroke-width="0.8"/><text x="486.69" y="758.20" font-size="9.3" text-anchor="middle" fill="#1e1e1e" textLength="11.01" lengthAdjust="spacingAndGlyphs">10</text><line x1="520.43" y1="746.80" x2="520.43" y2="749.20" stroke="#6e6e6e" stroke-width="0.8"/><text x="520.43" y="758.20" font-size="9.3" text-anchor="middle" fill="#1e1e1e" textLength="11.01" lengthAdjust="spacingAndGlyphs">15</text><line x1="554.18" y1="746.80" x2="554.18" y2="749.20" stroke="#6e6e6e" stroke-width="0.8"/><text x="554.18" y="758.20" font-size="9.3" text-anchor="middle" fill="#1e1e1e" textLength="11.01" lengthAdjust="spacingAndGlyphs">20</text><line x1="587.92" y1="746.80" x2="587.92" y2="749.20" stroke="#6e6e6e" stroke-width="0.8"/><text x="587.92" y="758.20" font-size="9.3" text-anchor="middle" fill="#1e1e1e" textLength="11.01" lengthAdjust="spacingAndGlyphs">25</text><line x1="621.67" y1="746.80" x2="621.67" y2="749.20" stroke="#6e6e6e" stroke-width="0.8"/><text x="621.67" y="758.20" font-size="9.3" text-anchor="middle" fill="#1e1e1e" textLength="11.01" lengthAdjust="spacingAndGlyphs">30</text><text x="530.60" y="769.70" font-size="9.6" text-anchor="middle" fill="#1e1e1e" textLength="31.80" lengthAdjust="spacingAndGlyphs">Epochs</text><text x="0" y="0" font-size="9.6" text-anchor="middle" fill="#1e1e1e" textLength="121.6" lengthAdjust="spacingAndGlyphs" transform="translate(377.90,662.40) rotate(-90)">Mean Squared Error (MSE)</text><text x="530.60" y="574.30" font-size="11.5" text-anchor="middle" fill="#1e1e1e" textLength="144.29" lengthAdjust="spacingAndGlyphs">Loss Curve for SimpleRNN</text><rect x="547.20" y="583.10" width="101.3" height="29.0" rx="2" fill="#fff" fill-opacity="0.85" stroke="#d8d8d8" stroke-width="0.8"/><line x1="550.25" y1="590.10" x2="569.35" y2="590.10" stroke="#4a86b6" stroke-width="1.4"/><line x1="550.25" y1="603.60" x2="569.35" y2="603.60" stroke="#ec9c55" stroke-width="1.4"/><text x="576.25" y="593.50" font-size="9.6" text-anchor="start" fill="#1e1e1e" textLength="59.20" lengthAdjust="spacingAndGlyphs">Training Loss</text><text x="576.25" y="607.00" font-size="9.6" text-anchor="start" fill="#1e1e1e" textLength="68.00" lengthAdjust="spacingAndGlyphs">Validation Loss</text><text x="526.60" y="803.70" font-size="20.7" text-anchor="middle" fill="#1e1e1e" letter-spacing="0.6">(f)</text><polyline points="65.50,853.60 70.32,975.00 75.14,986.70 79.96,993.70 84.78,996.60 89.60,998.40 94.42,1000.10 99.24,1000.50 104.06,1000.50 108.88,1002.50 113.70,1002.80 118.52,1003.30 123.34,1004.00 128.16,1004.20 132.98,1004.30 137.80,1004.42 142.62,1004.53 147.44,1004.65 152.26,1004.77 157.08,1004.88 161.90,1005.00 166.72,1005.08 171.54,1005.16 176.36,1005.24 181.18,1005.32 186.00,1005.40 190.82,1005.48 195.64,1005.56 200.46,1005.64 205.28,1005.72 210.10,1005.80 214.92,1005.85 219.74,1005.90 224.56,1005.95 229.38,1006.00 234.20,1006.05 239.02,1006.10 243.84,1006.15 248.66,1006.20 253.48,1006.25 258.30,1006.30 263.12,1006.33 267.94,1006.37 272.76,1006.40 277.58,1006.43 282.40,1006.47 287.22,1006.50 292.04,1006.53 296.86,1006.57 301.68,1006.60" fill="none" stroke="#4a86b6" stroke-width="1.25" stroke-linejoin="round" stroke-linecap="square"/><polyline points="65.50,991.40 70.32,997.00 75.14,997.80 79.96,1001.30 84.78,1003.10 89.60,1003.60 94.42,1004.20 99.24,1004.00 104.06,1003.60 108.88,1004.80 113.70,1004.00 118.52,1004.90 123.34,1005.20 128.16,1005.20 132.98,1005.20 137.80,1005.22 142.62,1005.23 147.44,1005.25 152.26,1005.27 157.08,1005.28 161.90,1005.30 166.72,1005.36 171.54,1005.42 176.36,1005.48 181.18,1005.54 186.00,1005.60 190.82,1005.66 195.64,1005.72 200.46,1005.78 205.28,1005.84 210.10,1005.90 214.92,1005.93 219.74,1005.96 224.56,1005.99 229.38,1006.02 234.20,1006.05 239.02,1006.08 243.84,1006.11 248.66,1006.14 253.48,1006.17 258.30,1006.20 263.12,1006.22 267.94,1006.24 272.76,1006.27 277.58,1006.29 282.40,1006.31 287.22,1006.33 292.04,1006.36 296.86,1006.38 301.68,1006.40" fill="none" stroke="#ec9c55" stroke-width="1.25" stroke-linejoin="round" stroke-linecap="square"/><rect x="54.00" y="846.40" width="259.50" height="168.90" fill="none" stroke="#6e6e6e" stroke-width="1.1"/><line x1="51.60" y1="868.20" x2="54.00" y2="868.20" stroke="#6e6e6e" stroke-width="0.8"/><text x="48.60" y="871.50" font-size="9.3" text-anchor="end" fill="#1e1e1e" textLength="5.26" lengthAdjust="spacingAndGlyphs">4</text><line x1="51.60" y1="904.80" x2="54.00" y2="904.80" stroke="#6e6e6e" stroke-width="0.8"/><text x="48.60" y="908.10" font-size="9.3" text-anchor="end" fill="#1e1e1e" textLength="5.26" lengthAdjust="spacingAndGlyphs">3</text><line x1="51.60" y1="941.40" x2="54.00" y2="941.40" stroke="#6e6e6e" stroke-width="0.8"/><text x="48.60" y="944.70" font-size="9.3" text-anchor="end" fill="#1e1e1e" textLength="5.26" lengthAdjust="spacingAndGlyphs">2</text><line x1="51.60" y1="978.00" x2="54.00" y2="978.00" stroke="#6e6e6e" stroke-width="0.8"/><text x="48.60" y="981.30" font-size="9.3" text-anchor="end" fill="#1e1e1e" textLength="5.26" lengthAdjust="spacingAndGlyphs">1</text><line x1="51.60" y1="1014.60" x2="54.00" y2="1014.60" stroke="#6e6e6e" stroke-width="0.8"/><text x="48.60" y="1017.90" font-size="9.3" text-anchor="end" fill="#1e1e1e" textLength="5.26" lengthAdjust="spacingAndGlyphs">0</text><line x1="65.50" y1="1015.30" x2="65.50" y2="1017.70" stroke="#6e6e6e" stroke-width="0.8"/><text x="65.50" y="1026.70" font-size="9.3" text-anchor="middle" fill="#1e1e1e" textLength="5.26" lengthAdjust="spacingAndGlyphs">0</text><line x1="113.70" y1="1015.30" x2="113.70" y2="1017.70" stroke="#6e6e6e" stroke-width="0.8"/><text x="113.70" y="1026.70" font-size="9.3" text-anchor="middle" fill="#1e1e1e" textLength="11.01" lengthAdjust="spacingAndGlyphs">10</text><line x1="161.90" y1="1015.30" x2="161.90" y2="1017.70" stroke="#6e6e6e" stroke-width="0.8"/><text x="161.90" y="1026.70" font-size="9.3" text-anchor="middle" fill="#1e1e1e" textLength="11.01" lengthAdjust="spacingAndGlyphs">20</text><line x1="210.10" y1="1015.30" x2="210.10" y2="1017.70" stroke="#6e6e6e" stroke-width="0.8"/><text x="210.10" y="1026.70" font-size="9.3" text-anchor="middle" fill="#1e1e1e" textLength="11.01" lengthAdjust="spacingAndGlyphs">30</text><line x1="258.30" y1="1015.30" x2="258.30" y2="1017.70" stroke="#6e6e6e" stroke-width="0.8"/><text x="258.30" y="1026.70" font-size="9.3" text-anchor="middle" fill="#1e1e1e" textLength="11.01" lengthAdjust="spacingAndGlyphs">40</text><line x1="306.50" y1="1015.30" x2="306.50" y2="1017.70" stroke="#6e6e6e" stroke-width="0.8"/><text x="306.50" y="1026.70" font-size="9.3" text-anchor="middle" fill="#1e1e1e" textLength="11.01" lengthAdjust="spacingAndGlyphs">50</text><text x="183.75" y="1038.20" font-size="9.6" text-anchor="middle" fill="#1e1e1e" textLength="31.80" lengthAdjust="spacingAndGlyphs">Epochs</text><text x="0" y="0" font-size="9.6" text-anchor="middle" fill="#1e1e1e" textLength="121.6" lengthAdjust="spacingAndGlyphs" transform="translate(37.90,930.85) rotate(-90)">Mean Squared Error (MSE)</text><text x="183.75" y="842.70" font-size="11.5" text-anchor="middle" fill="#1e1e1e" textLength="105.18" lengthAdjust="spacingAndGlyphs">Loss Curve for TCN</text><rect x="207.60" y="851.50" width="101.3" height="29.0" rx="2" fill="#fff" fill-opacity="0.85" stroke="#d8d8d8" stroke-width="0.8"/><line x1="210.65" y1="858.50" x2="229.75" y2="858.50" stroke="#4a86b6" stroke-width="1.4"/><line x1="210.65" y1="872.00" x2="229.75" y2="872.00" stroke="#ec9c55" stroke-width="1.4"/><text x="236.65" y="861.90" font-size="9.6" text-anchor="start" fill="#1e1e1e" textLength="59.20" lengthAdjust="spacingAndGlyphs">Training Loss</text><text x="236.65" y="875.40" font-size="9.6" text-anchor="start" fill="#1e1e1e" textLength="68.00" lengthAdjust="spacingAndGlyphs">Validation Loss</text><text x="187.00" y="1072.00" font-size="20.7" text-anchor="middle" fill="#1e1e1e" letter-spacing="0.6">(g)</text><polyline points="419.20,853.40 425.95,951.10 432.70,960.40 439.45,965.10 446.20,969.20 452.94,972.70 459.69,975.60 466.44,978.50 473.19,980.90 479.94,983.00 486.69,985.00 493.44,986.70 500.19,988.40 506.94,990.10 513.69,992.00 520.43,993.80 527.18,995.40 533.93,996.80 540.68,997.80 547.43,998.90 554.18,999.90 560.93,1000.60 567.68,1004.00 574.43,1005.20 581.18,1005.50 587.92,1005.90 594.67,1006.20 601.42,1006.50 608.17,1006.70 614.92,1007.00 621.67,1007.20 628.42,1007.30 635.17,1007.40 641.92,1007.40" fill="none" stroke="#4a86b6" stroke-width="1.25" stroke-linejoin="round" stroke-linecap="square"/><polyline points="419.20,933.60 425.95,951.10 432.70,956.40 439.45,959.90 446.20,962.40 452.94,964.50 459.69,966.30 466.44,967.40 473.19,968.40 479.94,969.20 486.69,969.80 493.44,970.10 500.19,970.20 506.94,969.90 513.69,970.10 520.43,970.50 527.18,970.30 533.93,970.10 540.68,969.80 547.43,969.80 554.18,969.50 560.93,969.80 567.68,974.20 574.43,974.20 581.18,974.10 587.92,974.00 594.67,974.00 601.42,974.00 608.17,974.00 614.92,974.00 621.67,974.00 628.42,974.00 635.17,974.00 641.92,974.00" fill="none" stroke="#ec9c55" stroke-width="1.25" stroke-linejoin="round" stroke-linecap="square"/><rect x="408.10" y="846.50" width="245.00" height="168.70" fill="none" stroke="#6e6e6e" stroke-width="1.1"/><line x1="405.70" y1="850.10" x2="408.10" y2="850.10" stroke="#6e6e6e" stroke-width="0.8"/><text x="402.70" y="853.40" font-size="9.3" text-anchor="end" fill="#1e1e1e" textLength="19.65" lengthAdjust="spacingAndGlyphs">0.50</text><line x1="405.70" y1="871.30" x2="408.10" y2="871.30" stroke="#6e6e6e" stroke-width="0.8"/><text x="402.70" y="874.60" font-size="9.3" text-anchor="end" fill="#1e1e1e" textLength="19.65" lengthAdjust="spacingAndGlyphs">0.45</text><line x1="405.70" y1="892.50" x2="408.10" y2="892.50" stroke="#6e6e6e" stroke-width="0.8"/><text x="402.70" y="895.80" font-size="9.3" text-anchor="end" fill="#1e1e1e" textLength="19.65" lengthAdjust="spacingAndGlyphs">0.40</text><line x1="405.70" y1="913.70" x2="408.10" y2="913.70" stroke="#6e6e6e" stroke-width="0.8"/><text x="402.70" y="917.00" font-size="9.3" text-anchor="end" fill="#1e1e1e" textLength="19.65" lengthAdjust="spacingAndGlyphs">0.35</text><line x1="405.70" y1="934.90" x2="408.10" y2="934.90" stroke="#6e6e6e" stroke-width="0.8"/><text x="402.70" y="938.20" font-size="9.3" text-anchor="end" fill="#1e1e1e" textLength="19.65" lengthAdjust="spacingAndGlyphs">0.30</text><line x1="405.70" y1="956.10" x2="408.10" y2="956.10" stroke="#6e6e6e" stroke-width="0.8"/><text x="402.70" y="959.40" font-size="9.3" text-anchor="end" fill="#1e1e1e" textLength="19.65" lengthAdjust="spacingAndGlyphs">0.25</text><line x1="405.70" y1="977.30" x2="408.10" y2="977.30" stroke="#6e6e6e" stroke-width="0.8"/><text x="402.70" y="980.60" font-size="9.3" text-anchor="end" fill="#1e1e1e" textLength="19.65" lengthAdjust="spacingAndGlyphs">0.20</text><line x1="405.70" y1="998.50" x2="408.10" y2="998.50" stroke="#6e6e6e" stroke-width="0.8"/><text x="402.70" y="1001.80" font-size="9.3" text-anchor="end" fill="#1e1e1e" textLength="19.65" lengthAdjust="spacingAndGlyphs">0.15</text><line x1="419.20" y1="1015.20" x2="419.20" y2="1017.60" stroke="#6e6e6e" stroke-width="0.8"/><text x="419.20" y="1026.60" font-size="9.3" text-anchor="middle" fill="#1e1e1e" textLength="5.26" lengthAdjust="spacingAndGlyphs">0</text><line x1="452.94" y1="1015.20" x2="452.94" y2="1017.60" stroke="#6e6e6e" stroke-width="0.8"/><text x="452.94" y="1026.60" font-size="9.3" text-anchor="middle" fill="#1e1e1e" textLength="5.26" lengthAdjust="spacingAndGlyphs">5</text><line x1="486.69" y1="1015.20" x2="486.69" y2="1017.60" stroke="#6e6e6e" stroke-width="0.8"/><text x="486.69" y="1026.60" font-size="9.3" text-anchor="middle" fill="#1e1e1e" textLength="11.01" lengthAdjust="spacingAndGlyphs">10</text><line x1="520.43" y1="1015.20" x2="520.43" y2="1017.60" stroke="#6e6e6e" stroke-width="0.8"/><text x="520.43" y="1026.60" font-size="9.3" text-anchor="middle" fill="#1e1e1e" textLength="11.01" lengthAdjust="spacingAndGlyphs">15</text><line x1="554.18" y1="1015.20" x2="554.18" y2="1017.60" stroke="#6e6e6e" stroke-width="0.8"/><text x="554.18" y="1026.60" font-size="9.3" text-anchor="middle" fill="#1e1e1e" textLength="11.01" lengthAdjust="spacingAndGlyphs">20</text><line x1="587.92" y1="1015.20" x2="587.92" y2="1017.60" stroke="#6e6e6e" stroke-width="0.8"/><text x="587.92" y="1026.60" font-size="9.3" text-anchor="middle" fill="#1e1e1e" textLength="11.01" lengthAdjust="spacingAndGlyphs">25</text><line x1="621.67" y1="1015.20" x2="621.67" y2="1017.60" stroke="#6e6e6e" stroke-width="0.8"/><text x="621.67" y="1026.60" font-size="9.3" text-anchor="middle" fill="#1e1e1e" textLength="11.01" lengthAdjust="spacingAndGlyphs">30</text><text x="530.60" y="1038.10" font-size="9.6" text-anchor="middle" fill="#1e1e1e" textLength="31.80" lengthAdjust="spacingAndGlyphs">Epochs</text><text x="0" y="0" font-size="9.6" text-anchor="middle" fill="#1e1e1e" textLength="121.6" lengthAdjust="spacingAndGlyphs" transform="translate(377.90,930.85) rotate(-90)">Mean Squared Error (MSE)</text><text x="530.60" y="842.80" font-size="11.5" text-anchor="middle" fill="#1e1e1e" textLength="152.97" lengthAdjust="spacingAndGlyphs">Loss Curve for Autoencoder</text><rect x="547.20" y="851.60" width="101.3" height="29.0" rx="2" fill="#fff" fill-opacity="0.85" stroke="#d8d8d8" stroke-width="0.8"/><line x1="550.25" y1="858.60" x2="569.35" y2="858.60" stroke="#4a86b6" stroke-width="1.4"/><line x1="550.25" y1="872.10" x2="569.35" y2="872.10" stroke="#ec9c55" stroke-width="1.4"/><text x="576.25" y="862.00" font-size="9.6" text-anchor="start" fill="#1e1e1e" textLength="59.20" lengthAdjust="spacingAndGlyphs">Training Loss</text><text x="576.25" y="875.50" font-size="9.6" text-anchor="start" fill="#1e1e1e" textLength="68.00" lengthAdjust="spacingAndGlyphs">Validation Loss</text><text x="526.60" y="1072.00" font-size="20.7" text-anchor="middle" fill="#1e1e1e" letter-spacing="0.6">(h)</text><path d="M4.4,3.9 H679.9 V1083.6 H4.4 Z" fill="none" stroke="#000" stroke-width="2.1" stroke-linecap="round" stroke-linejoin="round" stroke-dasharray="0.01 7.28 9 7.28" stroke-dashoffset="20.07"/></svg></body></html>
